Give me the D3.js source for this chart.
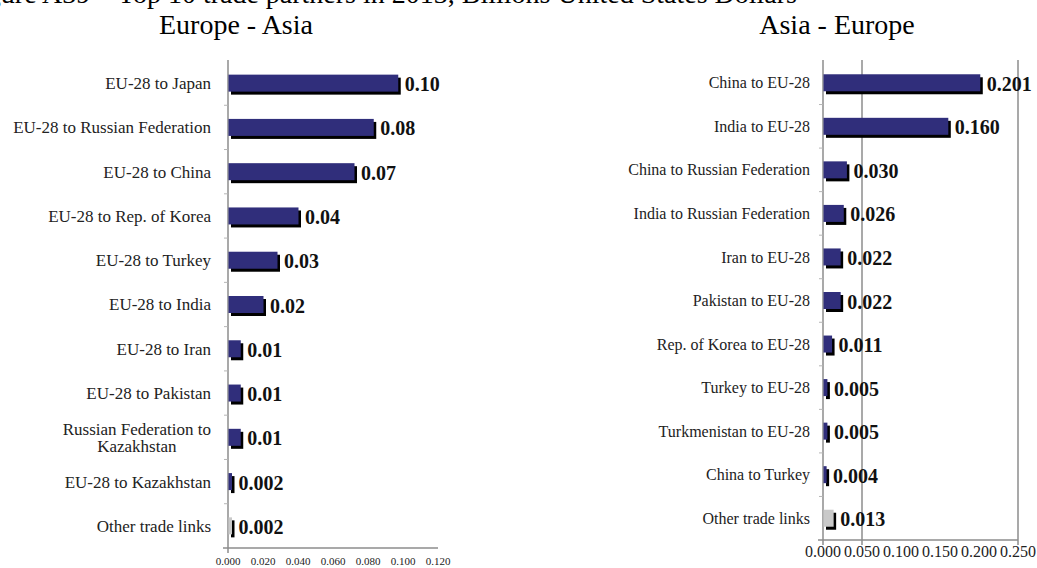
<!DOCTYPE html>
<html><head><meta charset="utf-8">
<script src="https://cdn.jsdelivr.net/npm/d3@7"></script>
<style>
body{margin:0;background:#fff;}
svg{display:block;font-family:"Liberation Serif","Times New Roman",serif;}
</style>
</head><body>
<svg id="c" width="1037" height="568"></svg>
<script>
const titleText = "Figure A39 – Top 10 trade partners in 2013, Billions United States Dollars";
const leftTitle = "Europe - Asia";
const rightTitle = "Asia - Europe";

const leftCategories = ["EU-28 to Japan", "EU-28 to Russian Federation", "EU-28 to China", "EU-28 to Rep. of Korea", "EU-28 to Turkey", "EU-28 to India", "EU-28 to Iran", "EU-28 to Pakistan", "Russian Federation to Kazakhstan", "EU-28 to Kazakhstan", "Other trade links"];
const leftValues = [0.097, 0.083, 0.072, 0.040, 0.028, 0.020, 0.007, 0.007, 0.007, 0.002, 0.002];
const leftLabels = ["0.10", "0.08", "0.07", "0.04", "0.03", "0.02", "0.01", "0.01", "0.01", "0.002", "0.002"];
const leftTicks = [0, 0.02, 0.04, 0.06, 0.08, 0.10, 0.12];
const leftGridlines = [];

const rightCategories = ["China to EU-28", "India to EU-28", "China to Russian Federation", "India to Russian Federation", "Iran to EU-28", "Pakistan to EU-28", "Rep. of Korea to EU-28", "Turkey to EU-28", "Turkmenistan to EU-28", "China to Turkey", "Other trade links"];
const rightValues = [0.201, 0.160, 0.030, 0.026, 0.022, 0.022, 0.011, 0.005, 0.005, 0.004, 0.013];
const rightLabels = ["0.201", "0.160", "0.030", "0.026", "0.022", "0.022", "0.011", "0.005", "0.005", "0.004", "0.013"];
const rightTicks = [0, 0.05, 0.10, 0.15, 0.20, 0.25];
const rightGridlines = [0.05, 0.25];

const svg = d3.select("#c");
const NAVY = "#302e7b", GREY = "#c9c9c9", AXIS = "#8c8c8c";

svg.append("text").attr("x", 797).attr("y", 3).attr("text-anchor", "end")
  .attr("font-size", 28).attr("fill", "#000").text(titleText);

function drawPanel(o) {
  const g = svg.append("g");
  const x = d3.scaleLinear().domain([0, d3.max(o.ticks)]).range([o.x0, o.x1]);
  const y = d3.scaleBand().domain(o.cats).range([o.yTop, o.yBot]).padding(0);
  const bw = y.bandwidth(), bh = 17;

  g.append("text").attr("x", o.titleX).attr("y", 34).attr("text-anchor", "middle")
    .attr("font-size", 28).attr("fill", "#000").text(o.title);

  g.selectAll("line.grid").data(o.grid).join("line")
    .attr("x1", d => x(d)).attr("x2", d => x(d))
    .attr("y1", o.yTop - 1).attr("y2", o.yBot + 5)
    .attr("stroke", AXIS).attr("stroke-width", 1.5);

  g.append("line").attr("x1", o.x0 - 5).attr("x2", o.x1).attr("y1", o.yBot).attr("y2", o.yBot)
    .attr("stroke", AXIS).attr("stroke-width", 1.5);
  g.append("line").attr("x1", o.x0).attr("x2", o.x0).attr("y1", o.yTop - 1).attr("y2", o.yBot + 5)
    .attr("stroke", AXIS).attr("stroke-width", 1.5);
  const bounds = o.cats.map(c => y(c)).slice(1);
  g.selectAll("line.ct").data(bounds).join("line")
    .attr("x1", o.x0 - 4).attr("x2", o.x0).attr("y1", d => d).attr("y2", d => d)
    .attr("stroke", "#b5b5b5").attr("stroke-width", 1);

  const rows = o.cats.map((c, i) => ({c, v: o.vals[i], l: o.labels[i]}));
  g.selectAll("rect.sh").data(rows).join("rect")
    .attr("x", o.x0 + 3).attr("y", d => y(d.c) + bw / 2 - bh / 2 + 3)
    .attr("width", d => Math.max(1.5, x(d.v) - o.x0)).attr("height", bh)
    .attr("fill", "#000");
  g.selectAll("rect.bar").data(rows).join("rect")
    .attr("x", o.x0 + 0.5).attr("y", d => y(d.c) + bw / 2 - bh / 2)
    .attr("width", d => Math.max(1.5, x(d.v) - o.x0)).attr("height", bh)
    .attr("fill", d => d.c === "Other trade links" ? GREY : NAVY);
  g.selectAll("text.val").data(rows).join("text")
    .attr("x", d => Math.max(x(d.v), o.x0 + 2) + 7).attr("y", d => y(d.c) + bw / 2 + 1)
    .attr("dy", "0.35em").attr("font-size", 20).attr("font-weight", "bold").attr("fill", "#111")
    .text(d => d.l);

  rows.forEach(d => {
    const t = g.append("text").attr("font-size", o.catFont).attr("fill", "#222");
    t.text(d.c);
    const w = t.node().getComputedTextLength();
    const cy = y(d.c) + bw / 2;
    if (w <= o.wrap) {
      t.attr("x", o.labelRight).attr("y", cy).attr("dy", "0.35em").attr("text-anchor", "end");
    } else {
      t.text(null);
      const words = d.c.split(" ");
      const lines = [];
      let cur = "";
      const probe = g.append("text").attr("font-size", o.catFont);
      words.forEach(wd => {
        const test = cur ? cur + " " + wd : wd;
        probe.text(test);
        if (probe.node().getComputedTextLength() > o.wrap && cur) { lines.push(cur); cur = wd; }
        else cur = test;
      });
      lines.push(cur);
      let maxW = 0;
      lines.forEach(l => { probe.text(l); maxW = Math.max(maxW, probe.node().getComputedTextLength()); });
      probe.remove();
      const cx = o.labelRight - maxW / 2;
      const lh = 17;
      lines.forEach((l, i) => {
        t.append("tspan").attr("x", cx).attr("y", cy + (i - (lines.length - 1) / 2) * lh)
          .attr("dy", "0.35em").text(l);
      });
      t.attr("text-anchor", "middle");
    }
  });

  const fmt = d3.format(".3f");
  g.selectAll("text.tick").data(o.ticks).join("text")
    .attr("x", d => x(d)).attr("y", o.tickBaseline).attr("text-anchor", "middle")
    .attr("font-size", o.tickFont).attr("fill", "#222").text(d => fmt(d));
}

drawPanel({cats: leftCategories, vals: leftValues, labels: leftLabels, ticks: leftTicks, grid: leftGridlines,
  x0: 228, x1: 438, yTop: 61, yBot: 548, labelRight: 211, wrap: 205, catFont: 17,
  tickFont: 11, tickBaseline: 565, title: leftTitle, titleX: 236});

drawPanel({cats: rightCategories, vals: rightValues, labels: rightLabels, ticks: rightTicks, grid: rightGridlines,
  x0: 823, x1: 1018, yTop: 61, yBot: 540, labelRight: 810, wrap: 200, catFont: 16,
  tickFont: 16, tickBaseline: 557, title: rightTitle, titleX: 837});
</script>
</body></html>
